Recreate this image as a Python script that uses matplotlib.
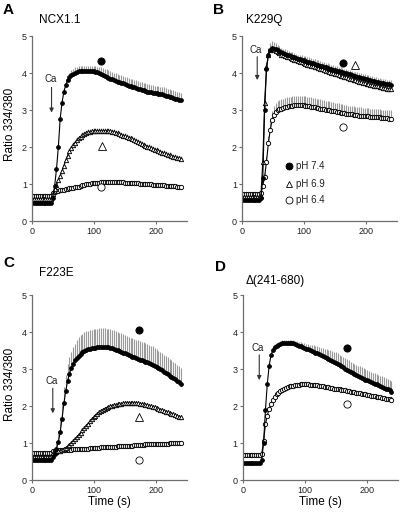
import numpy as np
import matplotlib.pyplot as plt

plt.rcParams['font.family'] = ['Liberation Sans', 'DejaVu Sans']

# sampling grid, one point every 3 s
time_s = np.arange(0, 243, 3)

# ---- panel A, NCX1.1 ----
a_ph74 = [0.49, 0.49, 0.49, 0.49, 0.49, 0.49, 0.49, 0.49, 0.49, 0.49, 0.49,
          0.62, 0.95, 1.40, 2.00, 2.77, 3.20, 3.50, 3.67, 3.80, 3.88,
          3.94, 3.98, 4.01, 4.03, 4.05, 4.06, 4.06, 4.06, 4.06, 4.06,
          4.06, 4.05, 4.05, 4.04, 4.03, 4.01, 3.97, 3.94, 3.92, 3.90,
          3.87, 3.85, 3.83, 3.81, 3.79, 3.77, 3.75, 3.74, 3.72, 3.70,
          3.68, 3.66, 3.64, 3.63, 3.61, 3.60, 3.58, 3.57, 3.55, 3.53,
          3.52, 3.50, 3.49, 3.48, 3.47, 3.46, 3.45, 3.44, 3.43, 3.42,
          3.41, 3.39, 3.38, 3.36, 3.35, 3.33, 3.31, 3.29, 3.28, 3.27]
a_ph74_sem = [0.03, 0.03, 0.03, 0.03, 0.03, 0.03, 0.03, 0.03, 0.03, 0.03, 0.03,
              0.05, 0.06, 0.08, 0.08, 0.08, 0.10, 0.10, 0.12, 0.12, 0.12,
              0.14, 0.14, 0.14, 0.14, 0.14, 0.14, 0.14, 0.14, 0.14, 0.14,
              0.14, 0.14, 0.14, 0.14, 0.14, 0.14, 0.20, 0.20, 0.20, 0.20,
              0.20, 0.20, 0.20, 0.20, 0.20, 0.20, 0.20, 0.20, 0.20, 0.20,
              0.20, 0.20, 0.20, 0.20, 0.20, 0.20, 0.20, 0.20, 0.20, 0.20,
              0.20, 0.20, 0.20, 0.20, 0.20, 0.20, 0.20, 0.20, 0.20, 0.20,
              0.20, 0.20, 0.20, 0.20, 0.20, 0.20, 0.20, 0.20, 0.20, 0.20]
a_ph69 = [0.60, 0.60, 0.60, 0.60, 0.60, 0.60, 0.60, 0.60, 0.60, 0.60, 0.60,
          0.72, 0.86, 0.98, 1.10, 1.22, 1.35, 1.50, 1.64, 1.77, 1.88,
          1.97, 2.05, 2.12, 2.18, 2.23, 2.28, 2.32, 2.35, 2.38, 2.40,
          2.41, 2.42, 2.43, 2.43, 2.44, 2.44, 2.44, 2.44, 2.44, 2.44,
          2.43, 2.42, 2.41, 2.40, 2.38, 2.37, 2.35, 2.33, 2.31, 2.29,
          2.27, 2.25, 2.23, 2.21, 2.18, 2.16, 2.13, 2.11, 2.08, 2.06,
          2.03, 2.01, 1.99, 1.97, 1.95, 1.93, 1.91, 1.89, 1.87, 1.85,
          1.83, 1.81, 1.79, 1.78, 1.76, 1.74, 1.72, 1.71, 1.69, 1.68]
a_ph69_sem = [0.02, 0.02, 0.02, 0.02, 0.02, 0.02, 0.02, 0.02, 0.02, 0.02, 0.02,
              0.03, 0.04, 0.05, 0.06, 0.07, 0.07, 0.08, 0.08, 0.08, 0.08,
              0.08, 0.08, 0.08, 0.08, 0.08, 0.08, 0.08, 0.08, 0.08, 0.08,
              0.08, 0.08, 0.08, 0.08, 0.08, 0.08, 0.08, 0.08, 0.08, 0.08,
              0.08, 0.08, 0.08, 0.08, 0.08, 0.08, 0.08, 0.08, 0.08, 0.08,
              0.08, 0.08, 0.08, 0.08, 0.08, 0.08, 0.08, 0.08, 0.08, 0.08,
              0.08, 0.08, 0.08, 0.08, 0.08, 0.08, 0.08, 0.08, 0.08, 0.08,
              0.08, 0.08, 0.08, 0.08, 0.08, 0.08, 0.08, 0.08, 0.08, 0.08]
a_ph64 = [0.67, 0.67, 0.67, 0.67, 0.67, 0.67, 0.67, 0.67, 0.67, 0.67, 0.68,
          0.75, 0.79, 0.81, 0.82, 0.83, 0.84, 0.85, 0.86, 0.87, 0.88,
          0.89, 0.90, 0.91, 0.92, 0.93, 0.95, 0.96, 0.98, 0.99, 1.00,
          1.01, 1.02, 1.03, 1.03, 1.04, 1.04, 1.05, 1.05, 1.05, 1.06,
          1.06, 1.06, 1.06, 1.06, 1.06, 1.05, 1.05, 1.05, 1.05, 1.04,
          1.04, 1.04, 1.03, 1.03, 1.03, 1.02, 1.02, 1.01, 1.01, 1.00,
          1.00, 1.00, 0.99, 0.99, 0.98, 0.98, 0.97, 0.97, 0.97, 0.96,
          0.96, 0.95, 0.95, 0.95, 0.94, 0.94, 0.94, 0.93, 0.93, 0.93]
a_ph64_sem = [0.02] * 11 + [0.03] * 70

# ---- panel B, K229Q ----
b_ph74 = [0.57, 0.57, 0.57, 0.57, 0.57, 0.57, 0.57, 0.57, 0.57, 0.57, 0.62,
          1.15, 3.00, 4.10, 4.48, 4.62, 4.67, 4.66, 4.64, 4.61, 4.58,
          4.56, 4.54, 4.52, 4.50, 4.48, 4.46, 4.44, 4.42, 4.40, 4.38,
          4.37, 4.36, 4.34, 4.33, 4.31, 4.30, 4.28, 4.26, 4.25, 4.23,
          4.22, 4.20, 4.18, 4.17, 4.15, 4.14, 4.12, 4.11, 4.09, 4.08,
          4.06, 4.05, 4.03, 4.02, 4.00, 3.99, 3.97, 3.96, 3.94, 3.92,
          3.91, 3.90, 3.88, 3.87, 3.86, 3.84, 3.83, 3.82, 3.80, 3.79,
          3.78, 3.77, 3.75, 3.74, 3.73, 3.72, 3.71, 3.70, 3.69, 3.68]
b_ph74_sem = [0.03, 0.03, 0.03, 0.03, 0.03, 0.03, 0.03, 0.03, 0.03, 0.03, 0.03,
              0.10, 0.15, 0.20, 0.20, 0.20, 0.20, 0.18, 0.16, 0.15, 0.14,
              0.12, 0.12, 0.12, 0.12, 0.12, 0.12, 0.12, 0.12, 0.12, 0.12,
              0.12, 0.12, 0.12, 0.12, 0.12, 0.12, 0.12, 0.12, 0.12, 0.12,
              0.12, 0.12, 0.12, 0.12, 0.12, 0.12, 0.12, 0.12, 0.12, 0.12,
              0.12, 0.12, 0.12, 0.12, 0.12, 0.12, 0.12, 0.12, 0.12, 0.12,
              0.12, 0.12, 0.12, 0.12, 0.12, 0.12, 0.12, 0.12, 0.12, 0.12,
              0.12, 0.12, 0.12, 0.12, 0.12, 0.12, 0.12, 0.12, 0.12, 0.12]
b_ph69 = [0.65, 0.65, 0.65, 0.65, 0.65, 0.65, 0.65, 0.65, 0.65, 0.65, 0.68,
          1.60, 3.20, 4.15, 4.50, 4.62, 4.64, 4.62, 4.59, 4.56, 4.53,
          4.50, 4.48, 4.46, 4.44, 4.42, 4.40, 4.38, 4.36, 4.34, 4.32,
          4.30, 4.29, 4.27, 4.25, 4.23, 4.22, 4.20, 4.18, 4.16, 4.15,
          4.13, 4.11, 4.10, 4.08, 4.06, 4.05, 4.03, 4.01, 4.00, 3.98,
          3.96, 3.95, 3.93, 3.91, 3.90, 3.88, 3.86, 3.85, 3.83, 3.82,
          3.80, 3.79, 3.77, 3.76, 3.74, 3.73, 3.71, 3.70, 3.68, 3.67,
          3.66, 3.65, 3.64, 3.62, 3.61, 3.60, 3.59, 3.58, 3.57, 3.56]
b_ph69_sem = [0.03] * 11 + [0.10] * 70
b_ph64 = [0.74, 0.74, 0.74, 0.74, 0.74, 0.74, 0.74, 0.74, 0.74, 0.74, 0.76,
          0.95, 1.20, 1.60, 2.10, 2.45, 2.72, 2.86, 2.94, 2.99, 3.02,
          3.04, 3.06, 3.08, 3.09, 3.10, 3.11, 3.12, 3.13, 3.13, 3.14,
          3.14, 3.14, 3.13, 3.12, 3.11, 3.10, 3.09, 3.08, 3.07, 3.06,
          3.05, 3.04, 3.03, 3.02, 3.01, 3.00, 2.99, 2.98, 2.97, 2.96,
          2.95, 2.94, 2.93, 2.92, 2.91, 2.90, 2.89, 2.88, 2.88, 2.87,
          2.86, 2.86, 2.85, 2.85, 2.84, 2.84, 2.83, 2.83, 2.82, 2.82,
          2.81, 2.81, 2.80, 2.80, 2.79, 2.79, 2.78, 2.78, 2.77, 2.77]
b_ph64_sem = [0.03, 0.03, 0.03, 0.03, 0.03, 0.03, 0.03, 0.03, 0.03, 0.03, 0.03,
              0.05, 0.10, 0.15, 0.20, 0.25, 0.25, 0.25, 0.25, 0.25, 0.25,
              0.25, 0.25, 0.25, 0.25, 0.25, 0.25, 0.25, 0.25, 0.25, 0.25,
              0.25, 0.25, 0.25, 0.25, 0.25, 0.25, 0.25, 0.25, 0.25, 0.25,
              0.25, 0.25, 0.25, 0.25, 0.24, 0.24, 0.24, 0.24, 0.24, 0.24,
              0.24, 0.24, 0.24, 0.23, 0.23, 0.23, 0.23, 0.23, 0.23, 0.23,
              0.23, 0.23, 0.23, 0.22, 0.22, 0.22, 0.22, 0.22, 0.22, 0.22,
              0.22, 0.22, 0.22, 0.22, 0.22, 0.22, 0.22, 0.22, 0.22, 0.22]

# ---- panel C, F223E ----
c_ph74 = [0.55, 0.55, 0.55, 0.55, 0.55, 0.55, 0.55, 0.55, 0.55, 0.55, 0.56,
          0.62, 0.72, 0.86, 1.03, 1.30, 1.67, 2.08, 2.41, 2.69, 2.88,
          3.03, 3.15, 3.24, 3.31, 3.37, 3.42, 3.46, 3.50, 3.53, 3.54,
          3.56, 3.57, 3.58, 3.59, 3.60, 3.61, 3.61, 3.61, 3.61, 3.60,
          3.60, 3.59, 3.57, 3.55, 3.53, 3.51, 3.49, 3.47, 3.45, 3.43,
          3.41, 3.38, 3.36, 3.34, 3.32, 3.30, 3.28, 3.26, 3.25, 3.23,
          3.21, 3.19, 3.16, 3.14, 3.12, 3.09, 3.06, 3.03, 3.00, 2.97,
          2.93, 2.90, 2.87, 2.83, 2.80, 2.76, 2.73, 2.69, 2.65, 2.61]
c_ph74_sem = [0.03, 0.03, 0.03, 0.03, 0.03, 0.03, 0.03, 0.03, 0.03, 0.03, 0.03,
              0.05, 0.10, 0.20, 0.30, 0.40, 0.45, 0.45, 0.45, 0.45, 0.45,
              0.45, 0.45, 0.45, 0.48, 0.50, 0.50, 0.50, 0.50, 0.50, 0.50,
              0.50, 0.50, 0.50, 0.50, 0.50, 0.50, 0.50, 0.50, 0.50, 0.50,
              0.50, 0.50, 0.50, 0.50, 0.50, 0.50, 0.50, 0.50, 0.50, 0.50,
              0.50, 0.50, 0.50, 0.50, 0.50, 0.50, 0.50, 0.50, 0.50, 0.50,
              0.50, 0.50, 0.50, 0.50, 0.50, 0.50, 0.48, 0.47, 0.46, 0.46,
              0.45, 0.45, 0.45, 0.44, 0.44, 0.44, 0.43, 0.43, 0.43, 0.43]
c_ph69 = [0.64, 0.64, 0.64, 0.64, 0.64, 0.64, 0.64, 0.64, 0.64, 0.64, 0.66,
          0.74, 0.76, 0.77, 0.78, 0.79, 0.82, 0.85, 0.88, 0.92, 0.96,
          1.01, 1.06, 1.12, 1.17, 1.23, 1.29, 1.35, 1.41, 1.47, 1.53,
          1.59, 1.65, 1.70, 1.75, 1.80, 1.84, 1.88, 1.91, 1.94, 1.96,
          1.98, 2.00, 2.02, 2.03, 2.04, 2.05, 2.06, 2.07, 2.08, 2.09,
          2.09, 2.10, 2.10, 2.10, 2.10, 2.09, 2.08, 2.07, 2.06, 2.05,
          2.04, 2.03, 2.02, 2.00, 1.99, 1.97, 1.95, 1.93, 1.91, 1.89,
          1.87, 1.86, 1.84, 1.82, 1.80, 1.78, 1.76, 1.74, 1.72, 1.70]
c_ph69_sem = [0.02] * 11 + [0.05] * 70
c_ph64 = [0.73, 0.73, 0.73, 0.73, 0.73, 0.73, 0.73, 0.73, 0.73, 0.73, 0.74,
          0.78, 0.80, 0.80, 0.81, 0.81, 0.82, 0.82, 0.82, 0.83, 0.83,
          0.83, 0.84, 0.84, 0.84, 0.85, 0.85, 0.85, 0.86, 0.86, 0.86,
          0.87, 0.87, 0.87, 0.88, 0.88, 0.88, 0.89, 0.89, 0.89, 0.90,
          0.90, 0.90, 0.91, 0.91, 0.91, 0.92, 0.92, 0.92, 0.93, 0.93,
          0.93, 0.94, 0.94, 0.94, 0.95, 0.95, 0.95, 0.96, 0.96, 0.96,
          0.97, 0.97, 0.97, 0.98, 0.98, 0.98, 0.98, 0.99, 0.99, 0.99,
          0.99, 0.99, 0.99, 1.00, 1.00, 1.00, 1.00, 1.00, 1.00, 1.00]
c_ph64_sem = [0.02] * 81

# ---- panel D, delta(241-680) ----
d_ph74 = [0.48, 0.48, 0.48, 0.48, 0.48, 0.48, 0.48, 0.48, 0.48, 0.48, 0.55,
          1.02, 1.90, 2.60, 3.10, 3.38, 3.52, 3.60, 3.64, 3.67, 3.69,
          3.70, 3.71, 3.72, 3.72, 3.72, 3.71, 3.70, 3.68, 3.66, 3.64,
          3.62, 3.60, 3.58, 3.56, 3.54, 3.52, 3.50, 3.48, 3.45, 3.43,
          3.41, 3.38, 3.36, 3.33, 3.31, 3.28, 3.26, 3.23, 3.20, 3.18,
          3.15, 3.12, 3.09, 3.06, 3.02, 2.99, 2.96, 2.93, 2.90, 2.87,
          2.85, 2.82, 2.80, 2.77, 2.75, 2.72, 2.70, 2.68, 2.66, 2.63,
          2.61, 2.59, 2.57, 2.55, 2.53, 2.50, 2.48, 2.46, 2.43, 2.40]
d_ph74_sem = [0.02, 0.02, 0.02, 0.02, 0.02, 0.02, 0.02, 0.02, 0.02, 0.02, 0.02,
              0.04, 0.06, 0.08, 0.08, 0.08, 0.08, 0.08, 0.08, 0.08, 0.08,
              0.08, 0.08, 0.08, 0.08, 0.08, 0.08, 0.08, 0.09, 0.10, 0.11,
              0.12, 0.12, 0.12, 0.13, 0.14, 0.15, 0.16, 0.17, 0.18, 0.19,
              0.20, 0.21, 0.22, 0.23, 0.24, 0.25, 0.26, 0.27, 0.28, 0.28,
              0.28, 0.28, 0.28, 0.28, 0.28, 0.28, 0.28, 0.28, 0.28, 0.28,
              0.28, 0.28, 0.28, 0.28, 0.28, 0.28, 0.28, 0.28, 0.28, 0.28,
              0.28, 0.28, 0.28, 0.28, 0.28, 0.28, 0.28, 0.28, 0.28, 0.28]
d_ph64 = [0.68, 0.68, 0.68, 0.68, 0.68, 0.68, 0.68, 0.68, 0.68, 0.68, 0.72,
          1.05, 1.52, 1.75, 1.93, 2.07, 2.17, 2.25, 2.32, 2.37, 2.42,
          2.45, 2.48, 2.50, 2.52, 2.54, 2.55, 2.56, 2.57, 2.58, 2.58,
          2.59, 2.59, 2.59, 2.59, 2.59, 2.58, 2.58, 2.58, 2.57, 2.57,
          2.56, 2.55, 2.54, 2.53, 2.52, 2.51, 2.50, 2.49, 2.48, 2.48,
          2.47, 2.46, 2.45, 2.44, 2.43, 2.42, 2.41, 2.40, 2.39, 2.38,
          2.37, 2.36, 2.35, 2.34, 2.33, 2.32, 2.31, 2.30, 2.29, 2.28,
          2.27, 2.26, 2.25, 2.24, 2.23, 2.22, 2.21, 2.20, 2.19, 2.17]
d_ph64_sem = [0.02] * 11 + [0.04] * 70

ph_labels = ['pH 7.4', 'pH 6.9', 'pH 6.4']
styles = {
    'pH 7.4': dict(marker='o', mfc='black', ms=2.7),
    'pH 6.9': dict(marker='^', mfc='white', ms=3.1),
    'pH 6.4': dict(marker='o', mfc='white', ms=3.1),
}

panels = [
    dict(letter='A', title='NCX1.1',
         series={'pH 7.4': (a_ph74, a_ph74_sem), 'pH 6.9': (a_ph69, a_ph69_sem),
                 'pH 6.4': (a_ph64, a_ph64_sem)},
         tags={'pH 7.4': (111, 4.32), 'pH 6.9': (112, 2.04), 'pH 6.4': (111, 0.91)},
         ca=(31, 3.83, 3.61, 2.93)),
    dict(letter='B', title='K229Q',
         series={'pH 7.4': (b_ph74, b_ph74_sem), 'pH 6.9': (b_ph69, b_ph69_sem),
                 'pH 6.4': (b_ph64, b_ph64_sem)},
         tags={'pH 7.4': (163, 4.26), 'pH 6.9': (183, 4.23), 'pH 6.4': (163, 2.55)},
         ca=(24, 4.62, 4.44, 3.81)),
    dict(letter='C', title='F223E',
         series={'pH 7.4': (c_ph74, c_ph74_sem), 'pH 6.9': (c_ph69, c_ph69_sem),
                 'pH 6.4': (c_ph64, c_ph64_sem)},
         tags={'pH 7.4': (173, 4.06), 'pH 6.9': (173, 1.72), 'pH 6.4': (173, 0.55)},
         ca=(33, 2.69, 2.49, 1.81)),
    dict(letter='D', title='\u0394(241-680)',
         series={'pH 7.4': (d_ph74, d_ph74_sem), 'pH 6.4': (d_ph64, d_ph64_sem)},
         tags={'pH 7.4': (168, 3.57), 'pH 6.4': (168, 2.06)},
         ca=(26, 3.57, 3.39, 2.71)),
]

# axes boxes in figure fractions, with letter and title placement (fig px)
boxes = [(0.081, 0.5692), (0.606, 0.5692), (0.081, 0.0637), (0.608, 0.0637)]
letter_px = [(3, 10), (213, 10), (3, 263), (215, 267)]
title_px = [(39, 20), (246, 20), (39, 273), (246, 281)]

W, H = 400, 513
fig = plt.figure(figsize=(W / 100, H / 100), dpi=100)
axis_col = '#6e6e6e'

for i, p in enumerate(panels):
    ax = fig.add_axes([boxes[i][0], boxes[i][1], 0.386, 0.3606])
    for lab in ['pH 6.4', 'pH 6.9', 'pH 7.4']:
        if lab not in p['series']:
            continue
        y, sem = p['series'][lab]
        y = np.array(y)
        ax.vlines(time_s, y, y + np.array(sem), color='#9a9a9a', lw=0.8, zorder=1)
        st = styles[lab]
        ax.plot(time_s, y, color='black', lw=0.8, marker=st['marker'],
                ms=st['ms'], mfc=st['mfc'], mec='black', mew=0.65, zorder=2)
    for lab, (tx, ty) in p['tags'].items():
        st = styles[lab]
        ax.plot(tx, ty, marker=st['marker'], ms=5.2, mfc=st['mfc'], mec='black',
                mew=0.6, ls='none', zorder=3)
    cx, cy, a0, a1 = p['ca']
    ax.text(cx - 2, cy, 'Ca', fontsize=7, ha='center', va='center', color='#222222')
    ax.annotate('', xy=(cx, a1), xytext=(cx, a0),
                arrowprops=dict(arrowstyle='-|>', color='#333333', lw=0.8,
                                mutation_scale=6, shrinkA=0, shrinkB=0))

    ax.set_xlim(0, 250)
    ax.set_ylim(0, 5)
    ax.set_xticks([0, 100, 200])
    ax.set_yticks([0, 1, 2, 3, 4, 5])
    for s in ['top', 'right']:
        ax.spines[s].set_visible(False)
    for s in ['left', 'bottom']:
        ax.spines[s].set_color(axis_col)
        ax.spines[s].set_linewidth(0.9)
    ax.tick_params(direction='out', length=2.5, width=0.8, color=axis_col,
                   labelsize=6.5, labelcolor='#222222', pad=1.5)
    if i in (0, 2):
        ax.set_ylabel('Ratio 334/380', fontsize=8.5)
        ax.yaxis.set_label_coords(-0.105, 0.52)
    if i in (2, 3):
        ax.set_xlabel('Time (s)', fontsize=8.5, labelpad=1)

    lx, ly = letter_px[i]
    fig.text(lx / W, 1 - ly / H, p['letter'], fontsize=11, fontweight='bold',
             ha='left', va='center')
    tx, ty = title_px[i]
    fig.text(tx / W, 1 - ty / H, p['title'], fontsize=8.5, ha='left', va='center')

    if i == 1:
        for k, lab in enumerate(ph_labels):
            st = styles[lab]
            yy = [0.297, 0.198, 0.114][k]
            ax.plot(0.305, yy, transform=ax.transAxes, marker=st['marker'], ms=5,
                    mfc=st['mfc'], mec='black', mew=0.6, ls='none')
            ax.text(0.345, yy, lab, transform=ax.transAxes, fontsize=7,
                    va='center', ha='left', color='#222222')

fig.savefig('out.png', dpi=100)
